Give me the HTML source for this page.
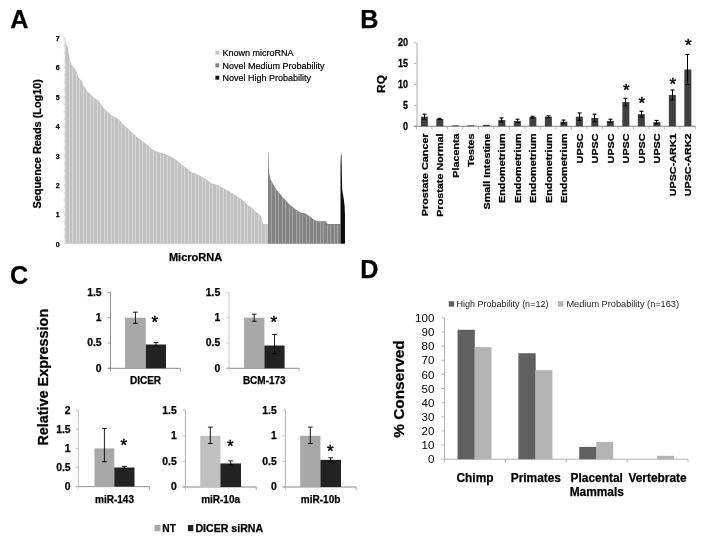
<!DOCTYPE html>
<html><head><meta charset="utf-8"><style>
html,body{margin:0;padding:0;background:#fff;}
svg{display:block;}
text{font-family:"Liberation Sans",sans-serif;}
text[font-weight="bold"]{stroke:#000;stroke-width:0.25px;}
text.lg{stroke:#000;stroke-width:0.2px;}
text.st{stroke:#000;stroke-width:0.45px;}
</style></head><body>
<svg width="717" height="544" viewBox="0 0 717 544">
<defs><filter id="soft" x="0" y="0" width="100%" height="100%"><feGaussianBlur stdDeviation="0.35"/></filter></defs>
<rect width="717" height="544" fill="#fff"/>
<g filter="url(#soft)">
<rect width="717" height="544" fill="#fff"/>
<polygon points="65.30,243.70 65.30,39.13 65.80,42.69 66.30,44.20 66.80,45.20 67.30,46.20 67.80,47.20 68.30,50.93 68.80,54.66 69.30,57.59 69.80,59.32 70.30,61.05 70.80,62.47 71.30,63.80 71.80,64.86 72.30,65.51 72.80,66.16 73.30,66.81 73.80,67.49 74.30,68.22 74.80,68.95 75.30,69.77 75.80,70.62 76.30,71.46 76.80,72.30 77.30,73.80 77.80,75.30 78.30,76.54 78.80,77.38 79.30,78.22 79.80,79.06 80.30,79.61 80.80,79.95 81.30,80.29 81.80,80.63 82.30,82.08 82.80,83.82 83.30,85.32 83.80,85.95 84.30,86.57 84.80,87.20 85.30,87.91 85.80,88.93 86.30,89.96 86.80,90.98 87.30,91.75 87.80,92.11 88.30,92.48 88.80,92.84 89.30,93.21 89.80,93.60 90.30,94.12 90.80,94.64 91.30,95.16 91.80,95.68 92.30,96.18 92.80,96.59 93.30,96.99 93.80,97.40 94.30,97.81 94.80,98.21 95.30,98.62 95.80,98.93 96.30,99.22 96.80,99.51 97.30,99.79 97.80,100.08 98.30,100.37 98.80,100.77 99.30,101.61 99.80,102.45 100.30,103.29 100.80,104.08 101.30,104.78 101.80,105.47 102.30,106.17 102.80,106.87 103.30,107.56 103.80,108.26 104.30,108.80 104.80,109.30 105.30,109.80 105.80,110.30 106.30,110.80 106.80,111.30 107.30,111.80 107.80,112.28 108.30,112.69 108.80,113.10 109.30,113.51 109.80,113.92 110.30,114.33 110.80,114.74 111.30,115.15 111.80,115.50 112.30,115.76 112.80,116.01 113.30,116.27 113.80,116.52 114.30,116.78 114.80,117.03 115.30,117.29 115.80,117.54 116.30,117.80 116.80,118.08 117.30,118.49 117.80,118.90 118.30,119.31 118.80,119.72 119.30,120.13 119.80,120.54 120.30,120.95 120.80,121.44 121.30,122.05 121.80,122.66 122.30,123.27 122.80,123.88 123.30,124.49 123.80,125.10 124.30,125.51 124.80,125.92 125.30,126.33 125.80,126.74 126.30,127.15 126.80,127.56 127.30,127.97 127.80,128.40 128.30,128.90 128.80,129.40 129.30,129.90 129.80,130.40 130.30,130.90 130.80,131.40 131.30,131.90 131.80,132.40 132.30,132.89 132.80,133.33 133.30,133.77 133.80,134.21 134.30,134.65 134.80,135.09 135.30,135.54 135.80,135.98 136.30,136.42 136.80,136.86 137.30,137.30 137.80,137.68 138.30,138.06 138.80,138.45 139.30,138.83 139.80,139.21 140.30,139.59 140.80,139.98 141.30,140.36 141.80,140.74 142.30,141.12 142.80,141.49 143.30,141.86 143.80,142.22 144.30,142.59 144.80,142.95 145.30,143.32 145.80,143.68 146.30,144.05 146.80,144.42 147.30,144.78 147.80,145.21 148.30,145.72 148.80,146.23 149.30,146.74 149.80,147.26 150.30,147.77 150.80,148.28 151.30,148.80 151.80,149.09 152.30,149.33 152.80,149.57 153.30,149.81 153.80,150.05 154.30,150.29 154.80,150.53 155.30,150.78 155.80,151.02 156.30,151.26 156.80,151.46 157.30,151.62 157.80,151.78 158.30,151.93 158.80,152.09 159.30,152.24 159.80,152.40 160.30,152.56 160.80,152.71 161.30,152.87 161.80,153.03 162.30,153.18 162.80,153.34 163.30,153.52 163.80,153.71 164.30,153.90 164.80,154.09 165.30,154.28 165.80,154.48 166.30,154.67 166.80,154.86 167.30,155.05 167.80,155.25 168.30,155.44 168.80,155.63 169.30,155.82 169.80,156.07 170.30,156.37 170.80,156.66 171.30,156.95 171.80,157.24 172.30,157.53 172.80,157.82 173.30,158.11 173.80,158.40 174.30,158.69 174.80,158.98 175.30,159.36 175.80,159.78 176.30,160.21 176.80,160.64 177.30,161.06 177.80,161.49 178.30,161.92 178.80,162.34 179.30,162.76 179.80,163.17 180.30,163.57 180.80,163.98 181.30,164.38 181.80,164.79 182.30,165.19 182.80,165.60 183.30,166.00 183.80,166.34 184.30,166.68 184.80,167.02 185.30,167.37 185.80,167.71 186.30,168.05 186.80,168.39 187.30,168.73 187.80,169.19 188.30,169.67 188.80,170.16 189.30,170.65 189.80,171.13 190.30,171.62 190.80,172.10 191.30,172.32 191.80,172.46 192.30,172.61 192.80,172.75 193.30,172.90 193.80,173.05 194.30,173.19 194.80,173.34 195.30,173.48 195.80,173.65 196.30,173.91 196.80,174.16 197.30,174.41 197.80,174.67 198.30,174.92 198.80,175.18 199.30,175.43 199.80,175.69 200.30,175.94 200.80,176.20 201.30,176.46 201.80,176.77 202.30,177.08 202.80,177.39 203.30,177.70 203.80,178.01 204.30,178.32 204.80,178.63 205.30,178.93 205.80,179.24 206.30,179.55 206.80,179.87 207.30,180.24 207.80,180.60 208.30,180.97 208.80,181.33 209.30,181.70 209.80,182.06 210.30,182.43 210.80,182.79 211.30,183.15 211.80,183.38 212.30,183.51 212.80,183.64 213.30,183.78 213.80,183.91 214.30,184.04 214.80,184.18 215.30,184.31 215.80,184.44 216.30,184.57 216.80,184.80 217.30,185.06 217.80,185.31 218.30,185.57 218.80,185.82 219.30,186.08 219.80,186.33 220.30,186.59 220.80,186.84 221.30,187.09 221.80,187.35 222.30,187.60 222.80,187.86 223.30,188.11 223.80,188.37 224.30,188.62 224.80,188.88 225.30,189.13 225.80,189.39 226.30,189.64 226.80,189.89 227.30,190.15 227.80,190.45 228.30,190.76 228.80,191.07 229.30,191.37 229.80,191.68 230.30,191.99 230.80,192.30 231.30,192.61 231.80,192.92 232.30,193.23 232.80,193.54 233.30,193.85 233.80,194.17 234.30,194.49 234.80,194.81 235.30,195.13 235.80,195.45 236.30,195.76 236.80,196.08 237.30,196.40 237.80,196.72 238.30,197.04 238.80,197.40 239.30,197.77 239.80,198.14 240.30,198.52 240.80,198.89 241.30,199.26 241.80,199.63 242.30,200.01 242.80,200.38 243.30,200.75 243.80,201.13 244.30,201.59 244.80,202.08 245.30,202.57 245.80,203.05 246.30,203.54 246.80,204.03 247.30,204.52 247.80,205.01 248.30,205.44 248.80,205.78 249.30,206.12 249.80,206.46 250.30,206.80 250.80,207.14 251.30,207.49 251.80,207.83 252.30,208.20 252.80,208.70 253.30,209.20 253.80,209.70 254.30,210.20 254.80,210.70 255.30,211.20 255.80,211.70 256.30,212.20 256.80,212.53 257.30,212.87 257.80,213.20 258.30,213.53 258.80,213.87 259.30,214.20 259.80,214.53 260.30,214.87 260.80,216.33 261.30,218.54 261.80,220.76 262.30,222.03 262.80,223.07 263.30,223.90 263.80,223.90 264.30,223.90 264.80,223.90 265.30,223.90 265.80,223.90 266.30,223.90 266.80,223.90 267.30,223.90 267.80,223.90 268.00,243.70" fill="#c2c2c2"/>
<rect x="69.00" y="59.43" width="1.0" height="184.27" fill="#d6d6d6"/>
<rect x="72.00" y="66.70" width="1.0" height="177.00" fill="#d6d6d6"/>
<rect x="76.00" y="72.76" width="1.0" height="170.94" fill="#d6d6d6"/>
<rect x="79.00" y="79.53" width="1.0" height="164.17" fill="#d6d6d6"/>
<rect x="83.00" y="86.50" width="1.0" height="157.20" fill="#d6d6d6"/>
<rect x="86.00" y="91.37" width="1.0" height="152.33" fill="#d6d6d6"/>
<rect x="90.00" y="95.24" width="1.0" height="148.46" fill="#d6d6d6"/>
<rect x="93.00" y="98.04" width="1.0" height="145.66" fill="#d6d6d6"/>
<rect x="97.00" y="100.77" width="1.0" height="142.93" fill="#d6d6d6"/>
<rect x="100.00" y="104.60" width="1.0" height="139.10" fill="#d6d6d6"/>
<rect x="104.00" y="109.90" width="1.0" height="133.80" fill="#d6d6d6"/>
<rect x="107.00" y="112.90" width="1.0" height="130.80" fill="#d6d6d6"/>
<rect x="111.00" y="116.20" width="1.0" height="127.50" fill="#d6d6d6"/>
<rect x="114.00" y="117.73" width="1.0" height="125.97" fill="#d6d6d6"/>
<rect x="118.00" y="120.36" width="1.0" height="123.34" fill="#d6d6d6"/>
<rect x="121.00" y="123.22" width="1.0" height="120.48" fill="#d6d6d6"/>
<rect x="125.00" y="127.38" width="1.0" height="116.32" fill="#d6d6d6"/>
<rect x="128.00" y="130.00" width="1.0" height="113.70" fill="#d6d6d6"/>
<rect x="132.00" y="133.95" width="1.0" height="109.75" fill="#d6d6d6"/>
<rect x="135.00" y="136.60" width="1.0" height="107.10" fill="#d6d6d6"/>
<rect x="139.00" y="139.86" width="1.0" height="103.84" fill="#d6d6d6"/>
<rect x="142.00" y="142.15" width="1.0" height="101.55" fill="#d6d6d6"/>
<rect x="146.00" y="145.07" width="1.0" height="98.63" fill="#d6d6d6"/>
<rect x="149.00" y="147.85" width="1.0" height="95.85" fill="#d6d6d6"/>
<rect x="153.00" y="150.76" width="1.0" height="92.94" fill="#d6d6d6"/>
<rect x="156.00" y="152.20" width="1.0" height="91.50" fill="#d6d6d6"/>
<rect x="160.00" y="153.45" width="1.0" height="90.25" fill="#d6d6d6"/>
<rect x="163.00" y="154.43" width="1.0" height="89.27" fill="#d6d6d6"/>
<rect x="167.00" y="155.97" width="1.0" height="87.73" fill="#d6d6d6"/>
<rect x="170.00" y="157.34" width="1.0" height="86.36" fill="#d6d6d6"/>
<rect x="174.00" y="159.67" width="1.0" height="84.03" fill="#d6d6d6"/>
<rect x="177.00" y="162.12" width="1.0" height="81.58" fill="#d6d6d6"/>
<rect x="181.00" y="165.42" width="1.0" height="78.28" fill="#d6d6d6"/>
<rect x="184.00" y="167.69" width="1.0" height="76.01" fill="#d6d6d6"/>
<rect x="188.00" y="170.77" width="1.0" height="72.93" fill="#d6d6d6"/>
<rect x="191.00" y="173.20" width="1.0" height="70.50" fill="#d6d6d6"/>
<rect x="195.00" y="174.37" width="1.0" height="69.33" fill="#d6d6d6"/>
<rect x="198.00" y="175.88" width="1.0" height="67.82" fill="#d6d6d6"/>
<rect x="202.00" y="178.07" width="1.0" height="65.63" fill="#d6d6d6"/>
<rect x="205.00" y="179.92" width="1.0" height="63.78" fill="#d6d6d6"/>
<rect x="209.00" y="182.71" width="1.0" height="60.99" fill="#d6d6d6"/>
<rect x="212.00" y="184.39" width="1.0" height="59.31" fill="#d6d6d6"/>
<rect x="216.00" y="185.50" width="1.0" height="58.20" fill="#d6d6d6"/>
<rect x="219.00" y="187.03" width="1.0" height="56.67" fill="#d6d6d6"/>
<rect x="223.00" y="189.07" width="1.0" height="54.63" fill="#d6d6d6"/>
<rect x="226.00" y="190.59" width="1.0" height="53.11" fill="#d6d6d6"/>
<rect x="230.00" y="192.98" width="1.0" height="50.72" fill="#d6d6d6"/>
<rect x="233.00" y="194.85" width="1.0" height="48.85" fill="#d6d6d6"/>
<rect x="237.00" y="197.39" width="1.0" height="46.31" fill="#d6d6d6"/>
<rect x="240.00" y="199.54" width="1.0" height="44.16" fill="#d6d6d6"/>
<rect x="244.00" y="202.68" width="1.0" height="41.02" fill="#d6d6d6"/>
<rect x="247.00" y="205.61" width="1.0" height="38.09" fill="#d6d6d6"/>
<rect x="251.00" y="208.49" width="1.0" height="35.21" fill="#d6d6d6"/>
<rect x="254.00" y="211.30" width="1.0" height="32.40" fill="#d6d6d6"/>
<rect x="258.00" y="214.53" width="1.0" height="29.17" fill="#d6d6d6"/>
<rect x="261.00" y="220.67" width="1.0" height="23.03" fill="#d6d6d6"/>
<rect x="265.00" y="224.70" width="1.0" height="19.00" fill="#d6d6d6"/>
<polygon points="268.00,243.70 268.00,152.20 268.50,152.20 269.00,172.03 269.50,174.70 270.00,177.37 270.50,178.89 271.00,180.12 271.50,181.35 272.00,182.27 272.50,183.11 273.00,183.95 273.50,184.80 274.00,185.64 274.50,186.48 275.00,187.32 275.50,188.16 276.00,189.00 276.50,189.66 277.00,190.32 277.50,190.98 278.00,191.64 278.50,192.20 279.00,192.70 279.50,193.20 280.00,193.70 280.50,194.24 281.00,194.92 281.50,195.60 282.00,196.28 282.50,196.96 283.00,197.49 283.50,197.97 284.00,198.45 284.50,198.94 285.00,199.42 285.50,199.90 286.00,200.51 286.50,201.15 287.00,201.79 287.50,202.42 288.00,203.06 288.50,203.70 289.00,204.09 289.50,204.48 290.00,204.88 290.50,205.27 291.00,205.66 291.50,206.05 292.00,206.44 292.50,206.84 293.00,207.25 293.50,207.65 294.00,208.06 294.50,208.46 295.00,208.87 295.50,209.28 296.00,209.67 296.50,210.00 297.00,210.33 297.50,210.65 298.00,210.98 298.50,211.31 299.00,211.64 299.50,211.97 300.00,212.30 300.50,212.53 301.00,212.61 301.50,212.69 302.00,212.77 302.50,212.85 303.00,212.93 303.50,213.01 304.00,213.09 304.50,213.17 305.00,213.38 305.50,213.68 306.00,213.97 306.50,214.27 307.00,214.57 307.50,214.86 308.00,215.16 308.50,215.48 309.00,215.86 309.50,216.23 310.00,216.61 310.50,216.99 311.00,217.37 311.50,217.75 312.00,218.14 312.50,218.52 313.00,218.90 313.50,219.29 314.00,219.67 314.50,219.98 315.00,220.17 315.50,220.37 316.00,220.56 316.50,220.76 317.00,220.95 317.50,221.14 318.00,221.30 318.50,221.30 319.00,221.30 319.50,221.30 320.00,221.30 320.50,221.30 321.00,221.30 321.50,221.30 322.00,221.30 322.50,221.30 323.00,221.30 323.50,221.30 324.00,221.30 324.50,221.30 325.00,221.30 325.50,221.30 326.00,221.30 326.50,222.17 327.00,223.03 327.50,223.90 328.00,223.90 328.50,223.90 329.00,223.90 329.50,223.90 330.00,223.90 330.50,223.90 331.00,223.90 331.50,223.90 332.00,223.90 332.50,223.90 333.00,223.90 333.50,223.90 334.00,223.90 334.50,223.90 335.00,223.90 335.50,223.90 336.00,223.90 336.50,223.90 337.00,223.90 337.50,223.90 338.00,223.90 338.50,223.90 339.00,223.90 339.50,223.90 340.00,223.90 340.50,223.90 340.50,243.70" fill="#838383"/>
<rect x="271.00" y="182.40" width="1.0" height="61.30" fill="#a4a4a4"/>
<rect x="275.00" y="189.13" width="1.0" height="54.57" fill="#a4a4a4"/>
<rect x="278.00" y="193.10" width="1.0" height="50.60" fill="#a4a4a4"/>
<rect x="282.00" y="197.90" width="1.0" height="45.80" fill="#a4a4a4"/>
<rect x="285.00" y="200.80" width="1.0" height="42.90" fill="#a4a4a4"/>
<rect x="289.00" y="205.36" width="1.0" height="38.34" fill="#a4a4a4"/>
<rect x="292.00" y="207.72" width="1.0" height="35.98" fill="#a4a4a4"/>
<rect x="296.00" y="210.86" width="1.0" height="32.84" fill="#a4a4a4"/>
<rect x="299.00" y="212.84" width="1.0" height="30.86" fill="#a4a4a4"/>
<rect x="302.00" y="213.67" width="1.0" height="30.03" fill="#a4a4a4"/>
<rect x="306.00" y="215.13" width="1.0" height="28.57" fill="#a4a4a4"/>
<rect x="309.00" y="217.11" width="1.0" height="26.59" fill="#a4a4a4"/>
<rect x="313.00" y="220.16" width="1.0" height="23.54" fill="#a4a4a4"/>
<rect x="316.00" y="221.59" width="1.0" height="22.11" fill="#a4a4a4"/>
<rect x="320.00" y="222.10" width="1.0" height="21.60" fill="#a4a4a4"/>
<rect x="323.00" y="222.10" width="1.0" height="21.60" fill="#a4a4a4"/>
<rect x="327.00" y="224.70" width="1.0" height="19.00" fill="#a4a4a4"/>
<rect x="330.00" y="224.70" width="1.0" height="19.00" fill="#a4a4a4"/>
<rect x="334.00" y="224.70" width="1.0" height="19.00" fill="#a4a4a4"/>
<rect x="337.00" y="224.70" width="1.0" height="19.00" fill="#a4a4a4"/>
<polygon points="340.5,243.7 340.5,165 340.9,154.4 341.5,154.4 341.8,172 342.2,189.7 343.7,198.5 344.6,206 345,215 345,243.7" fill="#111"/>
<line x1="65" y1="37" x2="65" y2="244" stroke="#d0d0d0" stroke-width="0.8"/>
<line x1="63.4" y1="244.10" x2="65" y2="244.10" stroke="#c8c8c8" stroke-width="0.7"/>
<line x1="63.4" y1="236.75" x2="65" y2="236.75" stroke="#c8c8c8" stroke-width="0.7"/>
<line x1="63.4" y1="229.40" x2="65" y2="229.40" stroke="#c8c8c8" stroke-width="0.7"/>
<line x1="63.4" y1="222.05" x2="65" y2="222.05" stroke="#c8c8c8" stroke-width="0.7"/>
<line x1="63.4" y1="214.70" x2="65" y2="214.70" stroke="#c8c8c8" stroke-width="0.7"/>
<line x1="63.4" y1="207.35" x2="65" y2="207.35" stroke="#c8c8c8" stroke-width="0.7"/>
<line x1="63.4" y1="200.00" x2="65" y2="200.00" stroke="#c8c8c8" stroke-width="0.7"/>
<line x1="63.4" y1="192.65" x2="65" y2="192.65" stroke="#c8c8c8" stroke-width="0.7"/>
<line x1="63.4" y1="185.30" x2="65" y2="185.30" stroke="#c8c8c8" stroke-width="0.7"/>
<line x1="63.4" y1="177.95" x2="65" y2="177.95" stroke="#c8c8c8" stroke-width="0.7"/>
<line x1="63.4" y1="170.60" x2="65" y2="170.60" stroke="#c8c8c8" stroke-width="0.7"/>
<line x1="63.4" y1="163.25" x2="65" y2="163.25" stroke="#c8c8c8" stroke-width="0.7"/>
<line x1="63.4" y1="155.90" x2="65" y2="155.90" stroke="#c8c8c8" stroke-width="0.7"/>
<line x1="63.4" y1="148.55" x2="65" y2="148.55" stroke="#c8c8c8" stroke-width="0.7"/>
<line x1="63.4" y1="141.20" x2="65" y2="141.20" stroke="#c8c8c8" stroke-width="0.7"/>
<line x1="63.4" y1="133.85" x2="65" y2="133.85" stroke="#c8c8c8" stroke-width="0.7"/>
<line x1="63.4" y1="126.50" x2="65" y2="126.50" stroke="#c8c8c8" stroke-width="0.7"/>
<line x1="63.4" y1="119.15" x2="65" y2="119.15" stroke="#c8c8c8" stroke-width="0.7"/>
<line x1="63.4" y1="111.80" x2="65" y2="111.80" stroke="#c8c8c8" stroke-width="0.7"/>
<line x1="63.4" y1="104.45" x2="65" y2="104.45" stroke="#c8c8c8" stroke-width="0.7"/>
<line x1="63.4" y1="97.10" x2="65" y2="97.10" stroke="#c8c8c8" stroke-width="0.7"/>
<line x1="63.4" y1="89.75" x2="65" y2="89.75" stroke="#c8c8c8" stroke-width="0.7"/>
<line x1="63.4" y1="82.40" x2="65" y2="82.40" stroke="#c8c8c8" stroke-width="0.7"/>
<line x1="63.4" y1="75.05" x2="65" y2="75.05" stroke="#c8c8c8" stroke-width="0.7"/>
<line x1="63.4" y1="67.70" x2="65" y2="67.70" stroke="#c8c8c8" stroke-width="0.7"/>
<line x1="63.4" y1="60.35" x2="65" y2="60.35" stroke="#c8c8c8" stroke-width="0.7"/>
<line x1="63.4" y1="53.00" x2="65" y2="53.00" stroke="#c8c8c8" stroke-width="0.7"/>
<line x1="63.4" y1="45.65" x2="65" y2="45.65" stroke="#c8c8c8" stroke-width="0.7"/>
<line x1="63.4" y1="38.30" x2="65" y2="38.30" stroke="#c8c8c8" stroke-width="0.7"/>
<text x="59.6" y="246.80" font-size="7" font-weight="bold" text-anchor="end" font-family="Liberation Sans, sans-serif">0</text>
<text x="59.6" y="217.37" font-size="7" font-weight="bold" text-anchor="end" font-family="Liberation Sans, sans-serif">1</text>
<text x="59.6" y="187.94" font-size="7" font-weight="bold" text-anchor="end" font-family="Liberation Sans, sans-serif">2</text>
<text x="59.6" y="158.51" font-size="7" font-weight="bold" text-anchor="end" font-family="Liberation Sans, sans-serif">3</text>
<text x="59.6" y="129.08" font-size="7" font-weight="bold" text-anchor="end" font-family="Liberation Sans, sans-serif">4</text>
<text x="59.6" y="99.65" font-size="7" font-weight="bold" text-anchor="end" font-family="Liberation Sans, sans-serif">5</text>
<text x="59.6" y="70.22" font-size="7" font-weight="bold" text-anchor="end" font-family="Liberation Sans, sans-serif">6</text>
<text x="59.6" y="40.79" font-size="7" font-weight="bold" text-anchor="end" font-family="Liberation Sans, sans-serif">7</text>
<text transform="translate(40.9,143.8) rotate(-90)" font-size="10.9" font-weight="bold" text-anchor="middle" font-family="Liberation Sans, sans-serif">Sequence Reads (Log10)</text>
<text x="195.5" y="260.9" font-size="11" font-weight="bold" text-anchor="middle" font-family="Liberation Sans, sans-serif">MicroRNA</text>
<rect x="215.4" y="50.7" width="3.8" height="4" fill="#c3c3c3"/>
<text x="222.5" y="56.0" font-size="9.0" class="lg" font-family="Liberation Sans, sans-serif" fill="#000">Known microRNA</text>
<rect x="215.4" y="63.4" width="3.8" height="4" fill="#7f7f7f"/>
<text x="222.5" y="68.7" font-size="9.0" class="lg" font-family="Liberation Sans, sans-serif" fill="#000">Novel Medium Probability</text>
<rect x="215.4" y="75.7" width="3.8" height="4" fill="#111"/>
<text x="222.5" y="81.0" font-size="9.0" class="lg" font-family="Liberation Sans, sans-serif" fill="#000">Novel High Probability</text>
<line x1="417.0" y1="42.7" x2="417.0" y2="126.3" stroke="#c4c4c4" stroke-width="1.4"/>
<line x1="413.8" y1="126.3" x2="695.4" y2="126.3" stroke="#808080" stroke-width="1.1"/>
<line x1="413.9" y1="126.30" x2="416.4" y2="126.30" stroke="#a0a0a0" stroke-width="0.8"/>
<text transform="translate(408.1,126.20) scale(1,1.16)" y="3.22" font-size="9" font-weight="bold" text-anchor="end" font-family="Liberation Sans, sans-serif">0</text>
<line x1="413.9" y1="105.40" x2="416.4" y2="105.40" stroke="#a0a0a0" stroke-width="0.8"/>
<text transform="translate(408.1,105.30) scale(1,1.16)" y="3.22" font-size="9" font-weight="bold" text-anchor="end" font-family="Liberation Sans, sans-serif">5</text>
<line x1="413.9" y1="84.50" x2="416.4" y2="84.50" stroke="#a0a0a0" stroke-width="0.8"/>
<text transform="translate(408.1,84.40) scale(1,1.16)" y="3.22" font-size="9" font-weight="bold" text-anchor="end" font-family="Liberation Sans, sans-serif">10</text>
<line x1="413.9" y1="63.60" x2="416.4" y2="63.60" stroke="#a0a0a0" stroke-width="0.8"/>
<text transform="translate(408.1,63.50) scale(1,1.16)" y="3.22" font-size="9" font-weight="bold" text-anchor="end" font-family="Liberation Sans, sans-serif">15</text>
<line x1="413.9" y1="42.70" x2="416.4" y2="42.70" stroke="#a0a0a0" stroke-width="0.8"/>
<text transform="translate(408.1,42.60) scale(1,1.16)" y="3.22" font-size="9" font-weight="bold" text-anchor="end" font-family="Liberation Sans, sans-serif">20</text>
<line x1="416.40" y1="126.3" x2="416.40" y2="129.3" stroke="#a0a0a0" stroke-width="0.8"/>
<line x1="431.90" y1="126.3" x2="431.90" y2="129.3" stroke="#a0a0a0" stroke-width="0.8"/>
<line x1="447.40" y1="126.3" x2="447.40" y2="129.3" stroke="#a0a0a0" stroke-width="0.8"/>
<line x1="462.90" y1="126.3" x2="462.90" y2="129.3" stroke="#a0a0a0" stroke-width="0.8"/>
<line x1="478.40" y1="126.3" x2="478.40" y2="129.3" stroke="#a0a0a0" stroke-width="0.8"/>
<line x1="493.90" y1="126.3" x2="493.90" y2="129.3" stroke="#a0a0a0" stroke-width="0.8"/>
<line x1="509.40" y1="126.3" x2="509.40" y2="129.3" stroke="#a0a0a0" stroke-width="0.8"/>
<line x1="524.90" y1="126.3" x2="524.90" y2="129.3" stroke="#a0a0a0" stroke-width="0.8"/>
<line x1="540.40" y1="126.3" x2="540.40" y2="129.3" stroke="#a0a0a0" stroke-width="0.8"/>
<line x1="555.90" y1="126.3" x2="555.90" y2="129.3" stroke="#a0a0a0" stroke-width="0.8"/>
<line x1="571.40" y1="126.3" x2="571.40" y2="129.3" stroke="#a0a0a0" stroke-width="0.8"/>
<line x1="586.90" y1="126.3" x2="586.90" y2="129.3" stroke="#a0a0a0" stroke-width="0.8"/>
<line x1="602.40" y1="126.3" x2="602.40" y2="129.3" stroke="#a0a0a0" stroke-width="0.8"/>
<line x1="617.90" y1="126.3" x2="617.90" y2="129.3" stroke="#a0a0a0" stroke-width="0.8"/>
<line x1="633.40" y1="126.3" x2="633.40" y2="129.3" stroke="#a0a0a0" stroke-width="0.8"/>
<line x1="648.90" y1="126.3" x2="648.90" y2="129.3" stroke="#a0a0a0" stroke-width="0.8"/>
<line x1="664.40" y1="126.3" x2="664.40" y2="129.3" stroke="#a0a0a0" stroke-width="0.8"/>
<line x1="679.90" y1="126.3" x2="679.90" y2="129.3" stroke="#a0a0a0" stroke-width="0.8"/>
<line x1="695.40" y1="126.3" x2="695.40" y2="129.3" stroke="#a0a0a0" stroke-width="0.8"/>
<text transform="translate(385.4,84.0) rotate(-90) scale(1.08,1)" font-size="11" font-weight="bold" text-anchor="middle" font-family="Liberation Sans, sans-serif">RQ</text>
<rect x="420.85" y="116.69" width="7.0" height="9.61" fill="#404040"/>
<line x1="424.50" y1="114.18" x2="424.50" y2="119.19" stroke="#000" stroke-width="1"/>
<line x1="422.50" y1="114.18" x2="426.50" y2="114.18" stroke="#000" stroke-width="1.1"/>
<line x1="422.50" y1="119.19" x2="426.50" y2="119.19" stroke="#000" stroke-width="1.1"/>
<text transform="translate(427.95,133.4) rotate(-90) scale(1.125,1)" font-size="9.6" font-weight="bold" text-anchor="end" font-family="Liberation Sans, sans-serif">Prostate Cancer</text>
<rect x="436.35" y="118.98" width="7.0" height="7.31" fill="#404040"/>
<line x1="439.50" y1="118.36" x2="439.50" y2="119.61" stroke="#000" stroke-width="1"/>
<line x1="437.50" y1="118.36" x2="441.50" y2="118.36" stroke="#000" stroke-width="1.1"/>
<line x1="437.50" y1="119.61" x2="441.50" y2="119.61" stroke="#000" stroke-width="1.1"/>
<text transform="translate(443.45,133.4) rotate(-90) scale(1.125,1)" font-size="9.6" font-weight="bold" text-anchor="end" font-family="Liberation Sans, sans-serif">Prostate Normal</text>
<rect x="451.85" y="125.46" width="7.0" height="0.84" fill="#404040"/>
<text transform="translate(458.95,133.4) rotate(-90) scale(1.125,1)" font-size="9.6" font-weight="bold" text-anchor="end" font-family="Liberation Sans, sans-serif">Placenta</text>
<rect x="467.35" y="125.46" width="7.0" height="0.84" fill="#404040"/>
<text transform="translate(474.45,133.4) rotate(-90) scale(1.125,1)" font-size="9.6" font-weight="bold" text-anchor="end" font-family="Liberation Sans, sans-serif">Testes</text>
<rect x="482.85" y="124.84" width="7.0" height="1.46" fill="#404040"/>
<text transform="translate(489.95,133.4) rotate(-90) scale(1.125,1)" font-size="9.6" font-weight="bold" text-anchor="end" font-family="Liberation Sans, sans-serif">Small Intestine</text>
<rect x="498.35" y="120.03" width="7.0" height="6.27" fill="#404040"/>
<line x1="501.50" y1="117.94" x2="501.50" y2="122.12" stroke="#000" stroke-width="1"/>
<line x1="499.50" y1="117.94" x2="503.50" y2="117.94" stroke="#000" stroke-width="1.1"/>
<line x1="499.50" y1="122.12" x2="503.50" y2="122.12" stroke="#000" stroke-width="1.1"/>
<text transform="translate(505.45,133.4) rotate(-90) scale(1.125,1)" font-size="9.6" font-weight="bold" text-anchor="end" font-family="Liberation Sans, sans-serif">Endometrium</text>
<rect x="513.85" y="120.87" width="7.0" height="5.43" fill="#404040"/>
<line x1="517.50" y1="119.19" x2="517.50" y2="122.54" stroke="#000" stroke-width="1"/>
<line x1="515.50" y1="119.19" x2="519.50" y2="119.19" stroke="#000" stroke-width="1.1"/>
<line x1="515.50" y1="122.54" x2="519.50" y2="122.54" stroke="#000" stroke-width="1.1"/>
<text transform="translate(520.95,133.4) rotate(-90) scale(1.125,1)" font-size="9.6" font-weight="bold" text-anchor="end" font-family="Liberation Sans, sans-serif">Endometrium</text>
<rect x="529.35" y="117.10" width="7.0" height="9.20" fill="#404040"/>
<line x1="532.50" y1="116.27" x2="532.50" y2="117.94" stroke="#000" stroke-width="1"/>
<line x1="530.50" y1="116.27" x2="534.50" y2="116.27" stroke="#000" stroke-width="1.1"/>
<line x1="530.50" y1="117.94" x2="534.50" y2="117.94" stroke="#000" stroke-width="1.1"/>
<text transform="translate(536.45,133.4) rotate(-90) scale(1.125,1)" font-size="9.6" font-weight="bold" text-anchor="end" font-family="Liberation Sans, sans-serif">Endometrium</text>
<rect x="544.85" y="116.69" width="7.0" height="9.61" fill="#404040"/>
<line x1="548.50" y1="115.85" x2="548.50" y2="117.52" stroke="#000" stroke-width="1"/>
<line x1="546.50" y1="115.85" x2="550.50" y2="115.85" stroke="#000" stroke-width="1.1"/>
<line x1="546.50" y1="117.52" x2="550.50" y2="117.52" stroke="#000" stroke-width="1.1"/>
<text transform="translate(551.95,133.4) rotate(-90) scale(1.125,1)" font-size="9.6" font-weight="bold" text-anchor="end" font-family="Liberation Sans, sans-serif">Endometrium</text>
<rect x="560.35" y="121.70" width="7.0" height="4.60" fill="#404040"/>
<line x1="563.50" y1="120.03" x2="563.50" y2="123.37" stroke="#000" stroke-width="1"/>
<line x1="561.50" y1="120.03" x2="565.50" y2="120.03" stroke="#000" stroke-width="1.1"/>
<line x1="561.50" y1="123.37" x2="565.50" y2="123.37" stroke="#000" stroke-width="1.1"/>
<text transform="translate(567.45,133.4) rotate(-90) scale(1.125,1)" font-size="9.6" font-weight="bold" text-anchor="end" font-family="Liberation Sans, sans-serif">Endometrium</text>
<rect x="575.85" y="116.69" width="7.0" height="9.61" fill="#404040"/>
<line x1="579.50" y1="112.92" x2="579.50" y2="120.45" stroke="#000" stroke-width="1"/>
<line x1="577.50" y1="112.92" x2="581.50" y2="112.92" stroke="#000" stroke-width="1.1"/>
<line x1="577.50" y1="120.45" x2="581.50" y2="120.45" stroke="#000" stroke-width="1.1"/>
<text transform="translate(582.95,133.4) rotate(-90) scale(1.125,1)" font-size="9.6" font-weight="bold" text-anchor="end" font-family="Liberation Sans, sans-serif">UPSC</text>
<rect x="591.35" y="117.94" width="7.0" height="8.36" fill="#404040"/>
<line x1="594.50" y1="114.18" x2="594.50" y2="121.70" stroke="#000" stroke-width="1"/>
<line x1="592.50" y1="114.18" x2="596.50" y2="114.18" stroke="#000" stroke-width="1.1"/>
<line x1="592.50" y1="121.70" x2="596.50" y2="121.70" stroke="#000" stroke-width="1.1"/>
<text transform="translate(598.45,133.4) rotate(-90) scale(1.125,1)" font-size="9.6" font-weight="bold" text-anchor="end" font-family="Liberation Sans, sans-serif">UPSC</text>
<rect x="606.85" y="120.87" width="7.0" height="5.43" fill="#404040"/>
<line x1="610.50" y1="119.19" x2="610.50" y2="122.54" stroke="#000" stroke-width="1"/>
<line x1="608.50" y1="119.19" x2="612.50" y2="119.19" stroke="#000" stroke-width="1.1"/>
<line x1="608.50" y1="122.54" x2="612.50" y2="122.54" stroke="#000" stroke-width="1.1"/>
<text transform="translate(613.95,133.4) rotate(-90) scale(1.125,1)" font-size="9.6" font-weight="bold" text-anchor="end" font-family="Liberation Sans, sans-serif">UPSC</text>
<rect x="622.35" y="102.06" width="7.0" height="24.24" fill="#404040"/>
<line x1="625.50" y1="98.29" x2="625.50" y2="105.82" stroke="#000" stroke-width="1"/>
<line x1="623.50" y1="98.29" x2="627.50" y2="98.29" stroke="#000" stroke-width="1.1"/>
<line x1="623.50" y1="105.82" x2="627.50" y2="105.82" stroke="#000" stroke-width="1.1"/>
<text transform="translate(629.45,133.4) rotate(-90) scale(1.125,1)" font-size="9.6" font-weight="bold" text-anchor="end" font-family="Liberation Sans, sans-serif">UPSC</text>
<text x="626.35" y="96.20" font-size="17" class="st" text-anchor="middle" font-family="Liberation Sans, sans-serif">*</text>
<rect x="637.85" y="114.18" width="7.0" height="12.12" fill="#404040"/>
<line x1="641.50" y1="111.25" x2="641.50" y2="117.10" stroke="#000" stroke-width="1"/>
<line x1="639.50" y1="111.25" x2="643.50" y2="111.25" stroke="#000" stroke-width="1.1"/>
<line x1="639.50" y1="117.10" x2="643.50" y2="117.10" stroke="#000" stroke-width="1.1"/>
<text transform="translate(644.95,133.4) rotate(-90) scale(1.125,1)" font-size="9.6" font-weight="bold" text-anchor="end" font-family="Liberation Sans, sans-serif">UPSC</text>
<text x="641.85" y="108.60" font-size="17" class="st" text-anchor="middle" font-family="Liberation Sans, sans-serif">*</text>
<rect x="653.35" y="122.12" width="7.0" height="4.18" fill="#404040"/>
<line x1="656.50" y1="120.45" x2="656.50" y2="123.79" stroke="#000" stroke-width="1"/>
<line x1="654.50" y1="120.45" x2="658.50" y2="120.45" stroke="#000" stroke-width="1.1"/>
<line x1="654.50" y1="123.79" x2="658.50" y2="123.79" stroke="#000" stroke-width="1.1"/>
<text transform="translate(660.45,133.4) rotate(-90) scale(1.125,1)" font-size="9.6" font-weight="bold" text-anchor="end" font-family="Liberation Sans, sans-serif">UPSC</text>
<rect x="668.85" y="94.95" width="7.0" height="31.35" fill="#404040"/>
<line x1="672.50" y1="89.93" x2="672.50" y2="99.97" stroke="#000" stroke-width="1"/>
<line x1="670.50" y1="89.93" x2="674.50" y2="89.93" stroke="#000" stroke-width="1.1"/>
<line x1="670.50" y1="99.97" x2="674.50" y2="99.97" stroke="#000" stroke-width="1.1"/>
<text transform="translate(675.95,133.4) rotate(-90) scale(1.125,1)" font-size="9.6" font-weight="bold" text-anchor="end" font-family="Liberation Sans, sans-serif">UPSC-ARK1</text>
<text x="672.85" y="89.60" font-size="17" class="st" text-anchor="middle" font-family="Liberation Sans, sans-serif">*</text>
<rect x="684.35" y="69.45" width="7.0" height="56.85" fill="#404040"/>
<line x1="687.50" y1="54.40" x2="687.50" y2="84.50" stroke="#000" stroke-width="1"/>
<line x1="685.50" y1="54.40" x2="689.50" y2="54.40" stroke="#000" stroke-width="1.1"/>
<line x1="685.50" y1="84.50" x2="689.50" y2="84.50" stroke="#000" stroke-width="1.1"/>
<text transform="translate(691.45,133.4) rotate(-90) scale(1.125,1)" font-size="9.6" font-weight="bold" text-anchor="end" font-family="Liberation Sans, sans-serif">UPSC-ARK2</text>
<text x="688.35" y="51.00" font-size="17" class="st" text-anchor="middle" font-family="Liberation Sans, sans-serif">*</text>
<line x1="110.5" y1="292.4" x2="110.5" y2="368.3" stroke="#8c8c8c" stroke-width="1"/>
<line x1="107.7" y1="368.3" x2="180.4" y2="368.3" stroke="#8c8c8c" stroke-width="1"/>
<line x1="180.4" y1="368.3" x2="180.4" y2="371.3" stroke="#8c8c8c" stroke-width="0.8"/>
<line x1="110.5" y1="368.3" x2="110.5" y2="371.3" stroke="#8c8c8c" stroke-width="0.8"/>
<line x1="107.7" y1="368.30" x2="110.5" y2="368.30" stroke="#8c8c8c" stroke-width="0.8"/>
<text x="101.6" y="371.70" font-size="10.4" font-weight="bold" text-anchor="end" font-family="Liberation Sans, sans-serif">0</text>
<line x1="107.7" y1="343.00" x2="110.5" y2="343.00" stroke="#8c8c8c" stroke-width="0.8"/>
<text x="101.6" y="346.40" font-size="10.4" font-weight="bold" text-anchor="end" font-family="Liberation Sans, sans-serif">0.5</text>
<line x1="107.7" y1="317.70" x2="110.5" y2="317.70" stroke="#8c8c8c" stroke-width="0.8"/>
<text x="101.6" y="321.10" font-size="10.4" font-weight="bold" text-anchor="end" font-family="Liberation Sans, sans-serif">1</text>
<line x1="107.7" y1="292.40" x2="110.5" y2="292.40" stroke="#8c8c8c" stroke-width="0.8"/>
<text x="101.6" y="295.80" font-size="10.4" font-weight="bold" text-anchor="end" font-family="Liberation Sans, sans-serif">1.5</text>
<rect x="125" y="317.70" width="20.80" height="50.60" fill="#a8a8a8"/>
<rect x="145.8" y="344.52" width="20.20" height="23.78" fill="#232323"/>
<line x1="135.40" y1="312.13" x2="135.40" y2="323.27" stroke="#000" stroke-width="0.9"/>
<line x1="133.00" y1="312.13" x2="137.80" y2="312.13" stroke="#000" stroke-width="0.9"/>
<line x1="133.00" y1="323.27" x2="137.80" y2="323.27" stroke="#000" stroke-width="0.9"/>
<line x1="155.90" y1="342.49" x2="155.90" y2="346.04" stroke="#000" stroke-width="0.9"/>
<line x1="153.50" y1="342.49" x2="158.30" y2="342.49" stroke="#000" stroke-width="0.9"/>
<line x1="153.50" y1="346.04" x2="158.30" y2="346.04" stroke="#000" stroke-width="0.9"/>
<text x="145.50" y="383.80" font-size="10" font-weight="bold" text-anchor="middle" font-family="Liberation Sans, sans-serif">DICER</text>
<text x="154.80" y="327.80" font-size="17" class="st" text-anchor="middle" font-family="Liberation Sans, sans-serif">*</text>
<line x1="229.0" y1="292.4" x2="229.0" y2="368.3" stroke="#c8c8c8" stroke-width="1"/>
<line x1="226.2" y1="368.3" x2="299.1" y2="368.3" stroke="#8c8c8c" stroke-width="1"/>
<line x1="299.1" y1="368.3" x2="299.1" y2="371.3" stroke="#8c8c8c" stroke-width="0.8"/>
<line x1="229.0" y1="368.3" x2="229.0" y2="371.3" stroke="#c8c8c8" stroke-width="0.8"/>
<line x1="226.2" y1="368.30" x2="229.0" y2="368.30" stroke="#c8c8c8" stroke-width="0.8"/>
<text x="220.2" y="371.70" font-size="10.4" font-weight="bold" text-anchor="end" font-family="Liberation Sans, sans-serif">0</text>
<line x1="226.2" y1="343.00" x2="229.0" y2="343.00" stroke="#c8c8c8" stroke-width="0.8"/>
<text x="220.2" y="346.40" font-size="10.4" font-weight="bold" text-anchor="end" font-family="Liberation Sans, sans-serif">0.5</text>
<line x1="226.2" y1="317.70" x2="229.0" y2="317.70" stroke="#c8c8c8" stroke-width="0.8"/>
<text x="220.2" y="321.10" font-size="10.4" font-weight="bold" text-anchor="end" font-family="Liberation Sans, sans-serif">1</text>
<line x1="226.2" y1="292.40" x2="229.0" y2="292.40" stroke="#c8c8c8" stroke-width="0.8"/>
<text x="220.2" y="295.80" font-size="10.4" font-weight="bold" text-anchor="end" font-family="Liberation Sans, sans-serif">1.5</text>
<rect x="244" y="317.70" width="20.40" height="50.60" fill="#a8a8a8"/>
<rect x="264.4" y="345.53" width="20.20" height="22.77" fill="#232323"/>
<line x1="254.20" y1="314.16" x2="254.20" y2="321.24" stroke="#000" stroke-width="0.9"/>
<line x1="251.80" y1="314.16" x2="256.60" y2="314.16" stroke="#000" stroke-width="0.9"/>
<line x1="251.80" y1="321.24" x2="256.60" y2="321.24" stroke="#000" stroke-width="0.9"/>
<line x1="274.50" y1="334.40" x2="274.50" y2="353.63" stroke="#000" stroke-width="0.9"/>
<line x1="272.10" y1="334.40" x2="276.90" y2="334.40" stroke="#000" stroke-width="0.9"/>
<line x1="272.10" y1="353.63" x2="276.90" y2="353.63" stroke="#000" stroke-width="0.9"/>
<text x="264.30" y="383.80" font-size="10" font-weight="bold" text-anchor="middle" font-family="Liberation Sans, sans-serif">BCM-173</text>
<text x="273.90" y="327.80" font-size="17" class="st" text-anchor="middle" font-family="Liberation Sans, sans-serif">*</text>
<line x1="78.3" y1="410.2" x2="78.3" y2="486.6" stroke="#c0c0c0" stroke-width="1"/>
<line x1="75.5" y1="486.6" x2="149.5" y2="486.6" stroke="#999999" stroke-width="1"/>
<line x1="149.5" y1="486.6" x2="149.5" y2="489.6" stroke="#999999" stroke-width="0.8"/>
<line x1="78.3" y1="486.6" x2="78.3" y2="489.6" stroke="#c0c0c0" stroke-width="0.8"/>
<line x1="75.5" y1="486.60" x2="78.3" y2="486.60" stroke="#c0c0c0" stroke-width="0.8"/>
<text x="70.6" y="490.00" font-size="10.4" font-weight="bold" text-anchor="end" font-family="Liberation Sans, sans-serif">0</text>
<line x1="75.5" y1="467.50" x2="78.3" y2="467.50" stroke="#c0c0c0" stroke-width="0.8"/>
<text x="70.6" y="470.90" font-size="10.4" font-weight="bold" text-anchor="end" font-family="Liberation Sans, sans-serif">0.5</text>
<line x1="75.5" y1="448.40" x2="78.3" y2="448.40" stroke="#c0c0c0" stroke-width="0.8"/>
<text x="70.6" y="451.80" font-size="10.4" font-weight="bold" text-anchor="end" font-family="Liberation Sans, sans-serif">1</text>
<line x1="75.5" y1="429.30" x2="78.3" y2="429.30" stroke="#c0c0c0" stroke-width="0.8"/>
<text x="70.6" y="432.70" font-size="10.4" font-weight="bold" text-anchor="end" font-family="Liberation Sans, sans-serif">1.5</text>
<line x1="75.5" y1="410.20" x2="78.3" y2="410.20" stroke="#c0c0c0" stroke-width="0.8"/>
<text x="70.6" y="413.60" font-size="10.4" font-weight="bold" text-anchor="end" font-family="Liberation Sans, sans-serif">2</text>
<rect x="94.5" y="448.40" width="19.80" height="38.20" fill="#a8a8a8"/>
<rect x="114.3" y="467.50" width="20.20" height="19.10" fill="#232323"/>
<line x1="104.40" y1="428.54" x2="104.40" y2="461.77" stroke="#000" stroke-width="0.9"/>
<line x1="102.00" y1="428.54" x2="106.80" y2="428.54" stroke="#000" stroke-width="0.9"/>
<line x1="102.00" y1="461.77" x2="106.80" y2="461.77" stroke="#000" stroke-width="0.9"/>
<line x1="124.40" y1="466.35" x2="124.40" y2="468.65" stroke="#000" stroke-width="0.9"/>
<line x1="122.00" y1="466.35" x2="126.80" y2="466.35" stroke="#000" stroke-width="0.9"/>
<line x1="122.00" y1="468.65" x2="126.80" y2="468.65" stroke="#000" stroke-width="0.9"/>
<text x="114.50" y="502.90" font-size="10" font-weight="bold" text-anchor="middle" font-family="Liberation Sans, sans-serif">miR-143</text>
<text x="123.70" y="451.40" font-size="17" class="st" text-anchor="middle" font-family="Liberation Sans, sans-serif">*</text>
<line x1="185.4" y1="410.2" x2="185.4" y2="487.0" stroke="#b0b0b0" stroke-width="1"/>
<line x1="182.6" y1="487.0" x2="256.2" y2="487.0" stroke="#8c8c8c" stroke-width="1"/>
<line x1="256.2" y1="487.0" x2="256.2" y2="490.0" stroke="#8c8c8c" stroke-width="0.8"/>
<line x1="185.4" y1="487.0" x2="185.4" y2="490.0" stroke="#b0b0b0" stroke-width="0.8"/>
<line x1="182.6" y1="487.00" x2="185.4" y2="487.00" stroke="#b0b0b0" stroke-width="0.8"/>
<text x="176.8" y="490.40" font-size="10.4" font-weight="bold" text-anchor="end" font-family="Liberation Sans, sans-serif">0</text>
<line x1="182.6" y1="461.40" x2="185.4" y2="461.40" stroke="#b0b0b0" stroke-width="0.8"/>
<text x="176.8" y="464.80" font-size="10.4" font-weight="bold" text-anchor="end" font-family="Liberation Sans, sans-serif">0.5</text>
<line x1="182.6" y1="435.80" x2="185.4" y2="435.80" stroke="#b0b0b0" stroke-width="0.8"/>
<text x="176.8" y="439.20" font-size="10.4" font-weight="bold" text-anchor="end" font-family="Liberation Sans, sans-serif">1</text>
<line x1="182.6" y1="410.20" x2="185.4" y2="410.20" stroke="#b0b0b0" stroke-width="0.8"/>
<text x="176.8" y="413.60" font-size="10.4" font-weight="bold" text-anchor="end" font-family="Liberation Sans, sans-serif">1.5</text>
<rect x="200.2" y="435.80" width="20.20" height="51.20" fill="#c0c0c0"/>
<rect x="220.4" y="463.45" width="20.60" height="23.55" fill="#232323"/>
<line x1="210.30" y1="427.10" x2="210.30" y2="443.48" stroke="#000" stroke-width="0.9"/>
<line x1="207.90" y1="427.10" x2="212.70" y2="427.10" stroke="#000" stroke-width="0.9"/>
<line x1="207.90" y1="443.48" x2="212.70" y2="443.48" stroke="#000" stroke-width="0.9"/>
<line x1="230.70" y1="460.89" x2="230.70" y2="464.98" stroke="#000" stroke-width="0.9"/>
<line x1="228.30" y1="460.89" x2="233.10" y2="460.89" stroke="#000" stroke-width="0.9"/>
<line x1="228.30" y1="464.98" x2="233.10" y2="464.98" stroke="#000" stroke-width="0.9"/>
<text x="220.60" y="503.00" font-size="10" font-weight="bold" text-anchor="middle" font-family="Liberation Sans, sans-serif">miR-10a</text>
<text x="230.20" y="452.00" font-size="17" class="st" text-anchor="middle" font-family="Liberation Sans, sans-serif">*</text>
<line x1="285.4" y1="410.2" x2="285.4" y2="487.0" stroke="#b0b0b0" stroke-width="1"/>
<line x1="282.59999999999997" y1="487.0" x2="356.2" y2="487.0" stroke="#8c8c8c" stroke-width="1"/>
<line x1="356.2" y1="487.0" x2="356.2" y2="490.0" stroke="#8c8c8c" stroke-width="0.8"/>
<line x1="285.4" y1="487.0" x2="285.4" y2="490.0" stroke="#b0b0b0" stroke-width="0.8"/>
<line x1="282.59999999999997" y1="487.00" x2="285.4" y2="487.00" stroke="#b0b0b0" stroke-width="0.8"/>
<text x="276.8" y="490.40" font-size="10.4" font-weight="bold" text-anchor="end" font-family="Liberation Sans, sans-serif">0</text>
<line x1="282.59999999999997" y1="461.40" x2="285.4" y2="461.40" stroke="#b0b0b0" stroke-width="0.8"/>
<text x="276.8" y="464.80" font-size="10.4" font-weight="bold" text-anchor="end" font-family="Liberation Sans, sans-serif">0.5</text>
<line x1="282.59999999999997" y1="435.80" x2="285.4" y2="435.80" stroke="#b0b0b0" stroke-width="0.8"/>
<text x="276.8" y="439.20" font-size="10.4" font-weight="bold" text-anchor="end" font-family="Liberation Sans, sans-serif">1</text>
<line x1="282.59999999999997" y1="410.20" x2="285.4" y2="410.20" stroke="#b0b0b0" stroke-width="0.8"/>
<text x="276.8" y="413.60" font-size="10.4" font-weight="bold" text-anchor="end" font-family="Liberation Sans, sans-serif">1.5</text>
<rect x="300.2" y="435.80" width="20.20" height="51.20" fill="#a8a8a8"/>
<rect x="320.4" y="459.86" width="20.60" height="27.14" fill="#232323"/>
<line x1="310.30" y1="427.10" x2="310.30" y2="443.48" stroke="#000" stroke-width="0.9"/>
<line x1="307.90" y1="427.10" x2="312.70" y2="427.10" stroke="#000" stroke-width="0.9"/>
<line x1="307.90" y1="443.48" x2="312.70" y2="443.48" stroke="#000" stroke-width="0.9"/>
<line x1="330.70" y1="457.82" x2="330.70" y2="461.91" stroke="#000" stroke-width="0.9"/>
<line x1="328.30" y1="457.82" x2="333.10" y2="457.82" stroke="#000" stroke-width="0.9"/>
<line x1="328.30" y1="461.91" x2="333.10" y2="461.91" stroke="#000" stroke-width="0.9"/>
<text x="320.60" y="503.00" font-size="10" font-weight="bold" text-anchor="middle" font-family="Liberation Sans, sans-serif">miR-10b</text>
<text x="330.20" y="457.30" font-size="17" class="st" text-anchor="middle" font-family="Liberation Sans, sans-serif">*</text>
<text transform="translate(48.4,377.2) rotate(-90)" font-size="14.4" font-weight="bold" text-anchor="middle" font-family="Liberation Sans, sans-serif">Relative Expression</text>
<rect x="154.6" y="525" width="5.9" height="6.2" fill="#a8a8a8"/>
<text x="162.3" y="531.6" font-size="10.2" font-weight="bold" font-family="Liberation Sans, sans-serif">NT</text>
<rect x="187.9" y="525" width="5.4" height="6.2" fill="#232323"/>
<text x="195.4" y="531.6" font-size="10.6" font-weight="bold" font-family="Liberation Sans, sans-serif">DICER siRNA</text>
<line x1="444.6" y1="317.9" x2="444.6" y2="459.2" stroke="#a8a8a8" stroke-width="0.9"/>
<line x1="444.6" y1="459.2" x2="688" y2="459.2" stroke="#a8a8a8" stroke-width="0.9"/>
<line x1="441.4" y1="459.20" x2="444.6" y2="459.20" stroke="#a8a8a8" stroke-width="0.8"/>
<text x="434.3" y="463.30" font-size="11.5" text-anchor="end" font-family="Liberation Sans, sans-serif">0</text>
<line x1="441.4" y1="445.07" x2="444.6" y2="445.07" stroke="#a8a8a8" stroke-width="0.8"/>
<text x="434.3" y="449.17" font-size="11.5" text-anchor="end" font-family="Liberation Sans, sans-serif">10</text>
<line x1="441.4" y1="430.94" x2="444.6" y2="430.94" stroke="#a8a8a8" stroke-width="0.8"/>
<text x="434.3" y="435.04" font-size="11.5" text-anchor="end" font-family="Liberation Sans, sans-serif">20</text>
<line x1="441.4" y1="416.81" x2="444.6" y2="416.81" stroke="#a8a8a8" stroke-width="0.8"/>
<text x="434.3" y="420.91" font-size="11.5" text-anchor="end" font-family="Liberation Sans, sans-serif">30</text>
<line x1="441.4" y1="402.68" x2="444.6" y2="402.68" stroke="#a8a8a8" stroke-width="0.8"/>
<text x="434.3" y="406.78" font-size="11.5" text-anchor="end" font-family="Liberation Sans, sans-serif">40</text>
<line x1="441.4" y1="388.55" x2="444.6" y2="388.55" stroke="#a8a8a8" stroke-width="0.8"/>
<text x="434.3" y="392.65" font-size="11.5" text-anchor="end" font-family="Liberation Sans, sans-serif">50</text>
<line x1="441.4" y1="374.42" x2="444.6" y2="374.42" stroke="#a8a8a8" stroke-width="0.8"/>
<text x="434.3" y="378.52" font-size="11.5" text-anchor="end" font-family="Liberation Sans, sans-serif">60</text>
<line x1="441.4" y1="360.29" x2="444.6" y2="360.29" stroke="#a8a8a8" stroke-width="0.8"/>
<text x="434.3" y="364.39" font-size="11.5" text-anchor="end" font-family="Liberation Sans, sans-serif">70</text>
<line x1="441.4" y1="346.16" x2="444.6" y2="346.16" stroke="#a8a8a8" stroke-width="0.8"/>
<text x="434.3" y="350.26" font-size="11.5" text-anchor="end" font-family="Liberation Sans, sans-serif">80</text>
<line x1="441.4" y1="332.03" x2="444.6" y2="332.03" stroke="#a8a8a8" stroke-width="0.8"/>
<text x="434.3" y="336.13" font-size="11.5" text-anchor="end" font-family="Liberation Sans, sans-serif">90</text>
<line x1="441.4" y1="317.90" x2="444.6" y2="317.90" stroke="#a8a8a8" stroke-width="0.8"/>
<text x="434.3" y="322.00" font-size="11.5" text-anchor="end" font-family="Liberation Sans, sans-serif">100</text>
<line x1="444.60" y1="459.2" x2="444.60" y2="462.7" stroke="#a8a8a8" stroke-width="0.8"/>
<line x1="505.45" y1="459.2" x2="505.45" y2="462.7" stroke="#a8a8a8" stroke-width="0.8"/>
<line x1="566.30" y1="459.2" x2="566.30" y2="462.7" stroke="#a8a8a8" stroke-width="0.8"/>
<line x1="627.15" y1="459.2" x2="627.15" y2="462.7" stroke="#a8a8a8" stroke-width="0.8"/>
<line x1="688.00" y1="459.2" x2="688.00" y2="462.7" stroke="#a8a8a8" stroke-width="0.8"/>
<rect x="457.53" y="329.77" width="17.3" height="129.43" fill="#606060"/>
<rect x="474.63" y="347.15" width="16.9" height="112.05" fill="#b4b4b4"/>
<text x="475.03" y="482.20" font-size="11.9" font-weight="bold" text-anchor="middle" font-family="Liberation Sans, sans-serif">Chimp</text>
<rect x="518.38" y="353.22" width="17.3" height="105.98" fill="#606060"/>
<rect x="535.48" y="370.18" width="16.9" height="89.02" fill="#b4b4b4"/>
<text x="535.88" y="482.20" font-size="11.9" font-weight="bold" text-anchor="middle" font-family="Liberation Sans, sans-serif">Primates</text>
<rect x="579.23" y="446.91" width="17.3" height="12.29" fill="#606060"/>
<rect x="596.33" y="441.96" width="16.9" height="17.24" fill="#b4b4b4"/>
<text x="596.73" y="482.20" font-size="11.9" font-weight="bold" text-anchor="middle" font-family="Liberation Sans, sans-serif">Placental</text>
<text x="596.73" y="495.80" font-size="11.9" font-weight="bold" text-anchor="middle" font-family="Liberation Sans, sans-serif">Mammals</text>
<rect x="657.18" y="455.81" width="16.9" height="3.39" fill="#b4b4b4"/>
<text x="657.58" y="482.20" font-size="11.9" font-weight="bold" text-anchor="middle" font-family="Liberation Sans, sans-serif">Vertebrate</text>
<rect x="448.8" y="301.2" width="5.4" height="5.4" fill="#606060"/>
<text x="456.6" y="307.2" font-size="9" font-family="Liberation Sans, sans-serif" fill="#222">High Probability (n=12)</text>
<rect x="557.8" y="301.2" width="5.6" height="5.4" fill="#b4b4b4"/>
<text x="566.4" y="307.2" font-size="9.2" font-family="Liberation Sans, sans-serif" fill="#222">Medium Probability (n=163)</text>
<text transform="translate(403.7,389.0) rotate(-90) scale(1.085,1)" font-size="14.2" font-weight="bold" text-anchor="middle" font-family="Liberation Sans, sans-serif">% Conserved</text>
<text x="10.3" y="27.7" font-size="25.2" font-weight="bold" font-family="Liberation Sans, sans-serif">A</text>
<text x="360.2" y="27.8" font-size="25.2" font-weight="bold" font-family="Liberation Sans, sans-serif">B</text>
<text x="10.0" y="283.8" font-size="25.2" font-weight="bold" font-family="Liberation Sans, sans-serif">C</text>
<text x="360.2" y="277.8" font-size="25.2" font-weight="bold" font-family="Liberation Sans, sans-serif">D</text>
</g>
</svg>
</body></html>
